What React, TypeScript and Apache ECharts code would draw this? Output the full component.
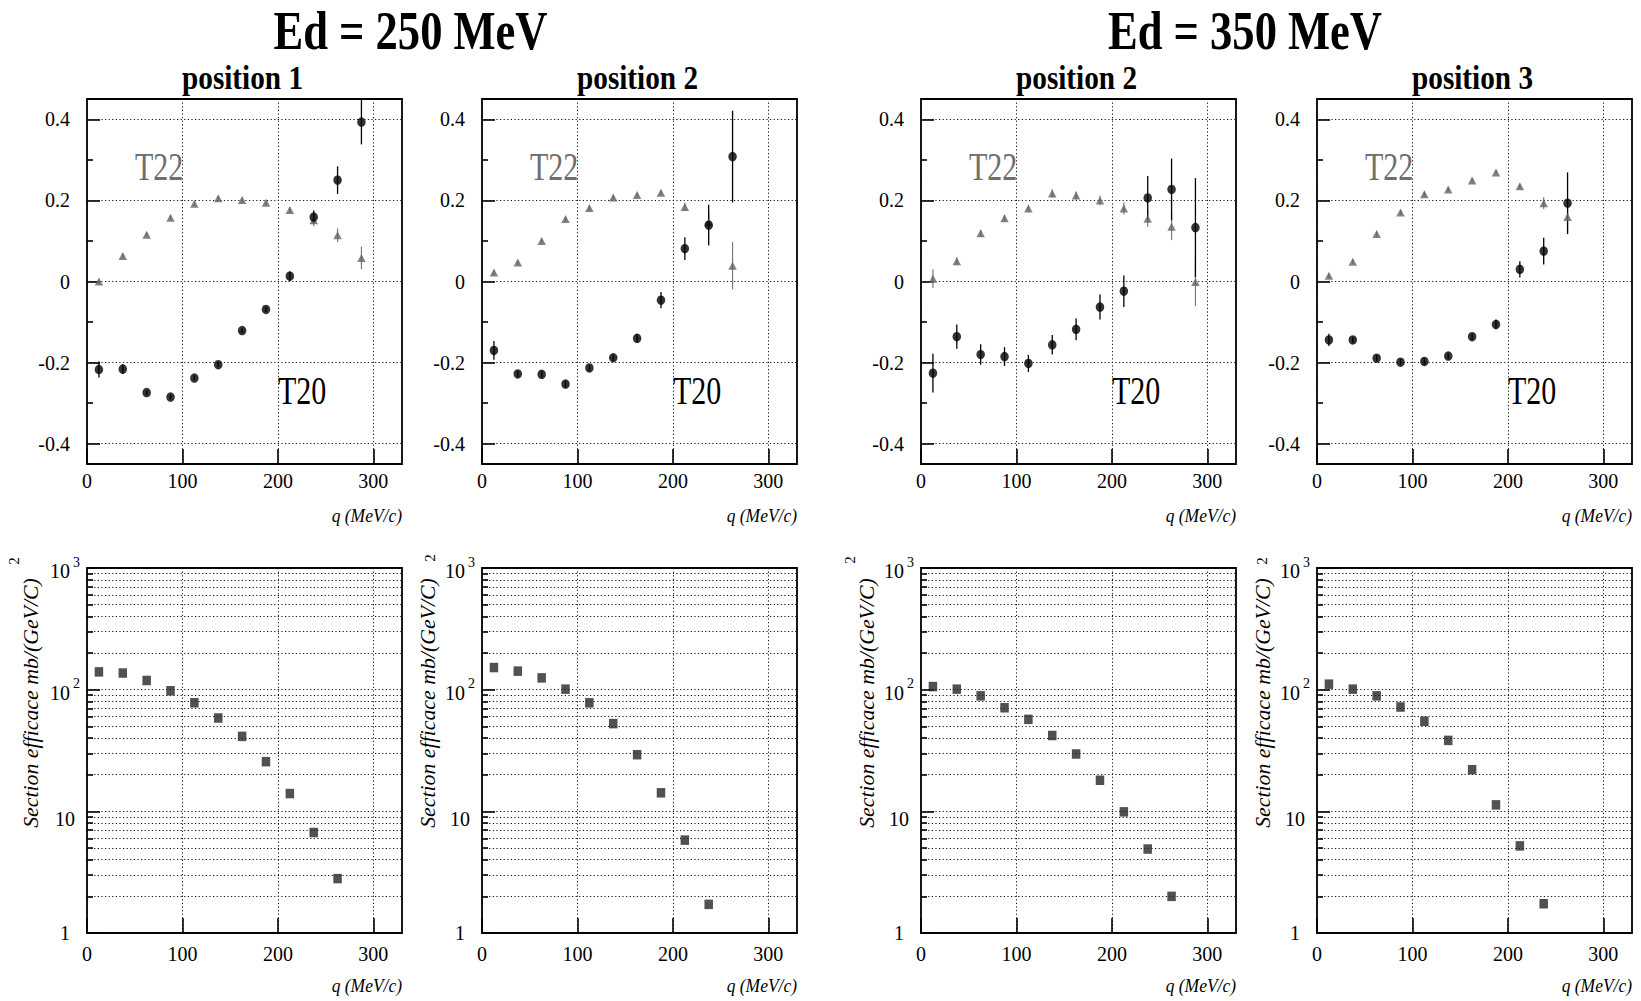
import React, { useEffect, useRef } from "react";
import * as echarts from "echarts";

// ---------------- data ----------------
const q = [12.5, 37.5, 62.5, 87.5, 112.5, 137.5, 162.5, 187.5, 212.5, 237.5, 262.5, 287.5];

const energyTitles = ["Ed = 250 MeV", "Ed = 350 MeV"];
const panelTitles = ["position 1", "position 2", "position 2", "position 3"];
const t22Label = "T22";
const t20Label = "T20";
const xName = "q (MeV/c)";
const yLogName = "Section efficace mb/(GeV/C)";
const yLogNameSup = "2";

const xTicks = [0, 100, 200, 300];
const yTicksTop = [-0.4, -0.2, 0, 0.2, 0.4];
const yMinorTop = [-0.3, -0.1, 0.1, 0.3];
const yMinorLog = [2, 3, 4, 5, 6, 7, 8, 9, 20, 30, 40, 50, 60, 70, 80, 90, 200, 300, 400, 500, 600, 700, 800, 900];

// T20 / T22 analysing powers
const t20_250_p1 = [-0.217, -0.216, -0.274, -0.285, -0.238, -0.205, -0.121, -0.069, 0.013, 0.159, 0.25, 0.393];
const t20_250_p1_err = [0.02, 0.012, 0.006, 0.006, 0.006, 0.006, 0.006, 0.006, 0.012, 0.016, 0.034, 0.055];
const t22_250_p1 = [0.0, 0.063, 0.115, 0.157, 0.192, 0.205, 0.201, 0.194, 0.176, 0.151, 0.114, 0.058];
const t22_250_p1_err = [0.006, 0.006, 0.006, 0.006, 0.006, 0.006, 0.006, 0.006, 0.008, 0.015, 0.017, 0.028];

const t20_250_p2 = [-0.17, -0.228, -0.229, -0.253, -0.213, -0.188, -0.14, -0.046, 0.081, 0.139, 0.308];
const t20_250_p2_err = [0.023, 0.008, 0.008, 0.008, 0.008, 0.008, 0.01, 0.02, 0.028, 0.05, 0.113];
const t22_250_p2 = [0.022, 0.047, 0.1, 0.154, 0.181, 0.207, 0.213, 0.219, 0.184, 0.146, 0.039];
const t22_250_p2_err = [0.006, 0.006, 0.006, 0.006, 0.006, 0.006, 0.006, 0.006, 0.01, 0.02, 0.058];

const t20_350_p2 = [-0.226, -0.136, -0.18, -0.185, -0.202, -0.156, -0.118, -0.063, -0.024, 0.206, 0.227, 0.133];
const t20_350_p2_err = [0.048, 0.03, 0.025, 0.023, 0.021, 0.024, 0.027, 0.031, 0.039, 0.054, 0.076, 0.122];
const t22_350_p2 = [0.007, 0.05, 0.119, 0.156, 0.18, 0.217, 0.212, 0.2, 0.18, 0.155, 0.135, -0.001];
const t22_350_p2_err = [0.023, 0.01, 0.008, 0.008, 0.008, 0.01, 0.01, 0.012, 0.015, 0.02, 0.033, 0.06];

const t20_350_p3 = [-0.144, -0.144, -0.189, -0.199, -0.197, -0.184, -0.136, -0.106, 0.03, 0.075, 0.193];
const t20_350_p3_err = [0.015, 0.008, 0.008, 0.008, 0.008, 0.008, 0.008, 0.012, 0.02, 0.033, 0.076];
const t22_350_p3 = [0.014, 0.049, 0.117, 0.17, 0.215, 0.227, 0.249, 0.269, 0.235, 0.193, 0.159];
const t22_350_p3_err = [0.006, 0.006, 0.006, 0.006, 0.006, 0.006, 0.006, 0.006, 0.006, 0.015, 0.035];

// cross sections mb/(GeV/c)^2
const cs_250_p1 = [140, 137, 119, 98, 78, 58.5, 41.3, 25.6, 14.0, 6.7, 2.8];
const cs_250_p2 = [152, 142, 125, 101, 78, 52.6, 29.2, 14.2, 5.8, 1.72];
const cs_350_p2 = [106, 101, 89, 71, 57, 42, 29.6, 18.0, 9.9, 4.9, 2.0];
const cs_350_p3 = [111, 101, 89, 72, 55, 38.3, 22.0, 11.3, 5.2, 1.74];

const topPanels = [
  { t20: t20_250_p1, t20e: t20_250_p1_err, t22: t22_250_p1, t22e: t22_250_p1_err },
  { t20: t20_250_p2, t20e: t20_250_p2_err, t22: t22_250_p2, t22e: t22_250_p2_err },
  { t20: t20_350_p2, t20e: t20_350_p2_err, t22: t22_350_p2, t22e: t22_350_p2_err },
  { t20: t20_350_p3, t20e: t20_350_p3_err, t22: t22_350_p3, t22e: t22_350_p3_err },
];
const bottomPanels = [cs_250_p1, cs_250_p2, cs_350_p2, cs_350_p3];

// ---------------- layout / style ----------------
const LEFTS = [87, 482, 921, 1317];
const GW = 315;
const GH = 365;
const TOPS = [99, 568];
const FONT = "Liberation Serif, Times New Roman, serif";
const GRAY = "#646464";
const dotted = { type: [1.2, 2.4], color: "#111", width: 1 };
const tickLine = { color: "#000", width: 1.6 };

function errSeries(xi: number, yi: number, vals: number[], errs: number[], color: string, width: number) {
  return {
    type: "custom",
    xAxisIndex: xi,
    yAxisIndex: yi,
    silent: true,
    data: vals.map((v, i) => [q[i], v - errs[i], v + errs[i]]),
    renderItem: (params: any, api: any) => {
      const p1 = api.coord([api.value(0), api.value(1)]);
      const p2 = api.coord([api.value(0), api.value(2)]);
      return {
        type: "line",
        shape: { x1: p1[0], y1: p1[1], x2: p2[0], y2: p2[1] },
        style: { stroke: color, lineWidth: width },
      };
    },
  };
}

function txt(
  x: number,
  y: number,
  text: string,
  size: number,
  opts: { align?: string; weight?: string; italic?: boolean; fill?: string; scaleX?: number; rotation?: number } = {}
) {
  const align = opts.align || "center";
  const el: any = {
    type: "text",
    x,
    y,
    style: {
      text,
      fontFamily: FONT,
      fontSize: size,
      fontWeight: opts.weight || "normal",
      fontStyle: opts.italic ? "italic" : "normal",
      fill: opts.fill || "#000",
      align,
      textAlign: align,
      verticalAlign: "middle",
      textVerticalAlign: "middle",
    },
  };
  if (opts.scaleX) el.scaleX = opts.scaleX;
  if (opts.rotation) el.rotation = opts.rotation;
  return el;
}

function buildOption() {
  const grid: any[] = [];
  const xAxis: any[] = [];
  const yAxis: any[] = [];
  const series: any[] = [];
  const graphic: any[] = [];

  for (let r = 0; r < 2; r++) {
    for (let c = 0; c < 4; c++) {
      const g = r * 4 + c;
      grid.push({
        left: LEFTS[c],
        top: TOPS[r],
        width: GW,
        height: GH,
        show: true,
        borderColor: "#000",
        borderWidth: 1.8,
        backgroundColor: "transparent",
        containLabel: false,
      });
      xAxis.push({
        type: "value",
        gridIndex: g,
        min: 0,
        max: 330,
        interval: 100,
        axisLine: { show: false, onZero: false },
        axisTick: { show: true, inside: true, length: 15, lineStyle: tickLine, customValues: xTicks },
        axisLabel: {
          customValues: xTicks,
          fontFamily: FONT,
          fontSize: 20,
          color: "#000",
          margin: r === 0 ? 7 : 11,
          formatter: (v: number) => (Math.round(v) % 100 === 0 ? String(Math.round(v)) : ""),
        },
        splitLine: { show: true, lineStyle: dotted },
      });
    }
  }

  // y axes: top row
  for (let c = 0; c < 4; c++) {
    const g = c;
    yAxis.push({
      type: "value",
      gridIndex: g,
      min: -0.45,
      max: 0.45,
      position: "left",
      axisLine: { show: false, onZero: false },
      axisTick: { show: true, inside: true, length: 13, lineStyle: tickLine, customValues: yTicksTop },
      axisLabel: {
        customValues: yTicksTop,
        fontFamily: FONT,
        fontSize: 20,
        color: "#000",
        margin: 17,
        formatter: (v: number) => (Math.abs(v) < 1e-9 ? "0" : String(Number(v.toFixed(1)))),
      },
      splitLine: { show: true, lineStyle: dotted },
    });
    yAxis.push({
      type: "value",
      gridIndex: g,
      min: -0.45,
      max: 0.45,
      position: "left",
      axisLine: { show: false, onZero: false },
      axisTick: { show: true, inside: true, length: 6, lineStyle: tickLine, customValues: yMinorTop },
      axisLabel: { show: false },
      splitLine: { show: false },
    });
  }
  // y axes: bottom row (log)
  for (let c = 0; c < 4; c++) {
    const g = 4 + c;
    yAxis.push({
      type: "log",
      logBase: 10,
      gridIndex: g,
      min: 1,
      max: 1000,
      position: "left",
      axisLine: { show: false, onZero: false },
      axisTick: { show: true, inside: true, length: 13, lineStyle: tickLine },
      axisLabel: {
        fontFamily: FONT,
        fontSize: 20,
        color: "#000",
        align: "center",
        margin: 22,
        formatter: (v: number) => {
          const n = Math.round(v);
          if (n === 1000) return "{b|10}{s|3}";
          if (n === 100) return "{b|10}{s|2}";
          if (n === 10) return "{t|10}";
          return "{b|" + n + "}";
        },
        rich: {
          b: { fontFamily: FONT, fontSize: 20, color: "#000", verticalAlign: "bottom" },
          s: { fontFamily: FONT, fontSize: 14, color: "#000", verticalAlign: "top", padding: [0, 0, 12, 3] },
          t: { fontFamily: FONT, fontSize: 20, color: "#000", padding: [16, 0, 0, 0] },
        },
      },
      splitLine: { show: true, lineStyle: dotted },
    });
    yAxis.push({
      type: "log",
      logBase: 10,
      gridIndex: g,
      min: 1,
      max: 1000,
      position: "left",
      axisLine: { show: false, onZero: false },
      axisTick: { show: true, inside: true, length: 6, lineStyle: tickLine, customValues: yMinorLog },
      axisLabel: { show: false },
      splitLine: { show: true, lineStyle: dotted },
    });
  }

  // series: top row
  topPanels.forEach((p, c) => {
    const xi = c;
    const yi = 2 * c;
    series.push(errSeries(xi, yi, p.t22, p.t22e, "#7a7a7a", 1.2));
    series.push({
      type: "scatter",
      name: t22Label + " " + c,
      xAxisIndex: xi,
      yAxisIndex: yi,
      symbol: "triangle",
      symbolSize: [8.5, 8],
      itemStyle: { color: GRAY },
      data: p.t22.map((v, i) => [q[i], v]),
    });
    series.push(errSeries(xi, yi, p.t20, p.t20e, "#000", 1.3));
    series.push({
      type: "scatter",
      name: t20Label + " " + c,
      xAxisIndex: xi,
      yAxisIndex: yi,
      symbol: "circle",
      symbolSize: [8.5, 9.5],
      itemStyle: { color: "#000" },
      data: p.t20.map((v, i) => [q[i], v]),
    });
  });
  // series: bottom row
  bottomPanels.forEach((vals, c) => {
    series.push({
      type: "scatter",
      name: "cs " + c,
      xAxisIndex: 4 + c,
      yAxisIndex: 8 + 2 * c,
      symbol: "rect",
      symbolSize: [8.5, 9.5],
      itemStyle: { color: "#262626" },
      data: vals.map((v, i) => [q[i], v]),
    });
  });

  // titles
  const energyX = [410.5, 1245];
  energyTitles.forEach((t, i) => {
    graphic.push(txt(energyX[i], 30, t, 55, { weight: "bold", scaleX: 0.81 }));
  });
  panelTitles.forEach((t, c) => {
    graphic.push(txt(LEFTS[c] + GW / 2 - 2, 78, t, 34, { weight: "bold", scaleX: 0.86 }));
    graphic.push(txt(LEFTS[c] + 48, 166.5, t22Label, 40, { align: "left", fill: "#6e6e6e", scaleX: 0.75 }));
    graphic.push(txt(LEFTS[c] + 191, 390, t20Label, 40, { align: "left", scaleX: 0.75 }));
    graphic.push(txt(LEFTS[c] + GW, 516, xName, 19, { align: "right", italic: true, scaleX: 0.92 }));
    graphic.push(txt(LEFTS[c] + GW, 986, xName, 19, { align: "right", italic: true, scaleX: 0.92 }));
    graphic.push(
      txt(LEFTS[c] - (c === 0 ? 55.5 : 54), 703, yLogName, 21, { italic: true, scaleX: 1.04, rotation: Math.PI / 2 })
    );
  });
  const supPos = [
    [13.5, 561],
    [430, 558],
    [850, 560],
    [1262, 561],
  ];
  supPos.forEach((p) => {
    graphic.push(txt(p[0], p[1], yLogNameSup, 15, { rotation: Math.PI / 2 }));
  });

  return {
    animation: false,
    backgroundColor: "#fff",
    grid,
    xAxis,
    yAxis,
    series,
    graphic,
  };
}

export default function App() {
  const ref = useRef<HTMLDivElement>(null);
  useEffect(() => {
    if (!ref.current) return;
    const chart = echarts.init(ref.current, undefined, { renderer: "svg" });
    chart.setOption(buildOption() as any);
    return () => chart.dispose();
  }, []);
  return (
    <div
      ref={ref}
      style={{ position: "fixed", left: 0, top: 0, width: 1641, height: 1001, background: "#fff" }}
    />
  );
}
